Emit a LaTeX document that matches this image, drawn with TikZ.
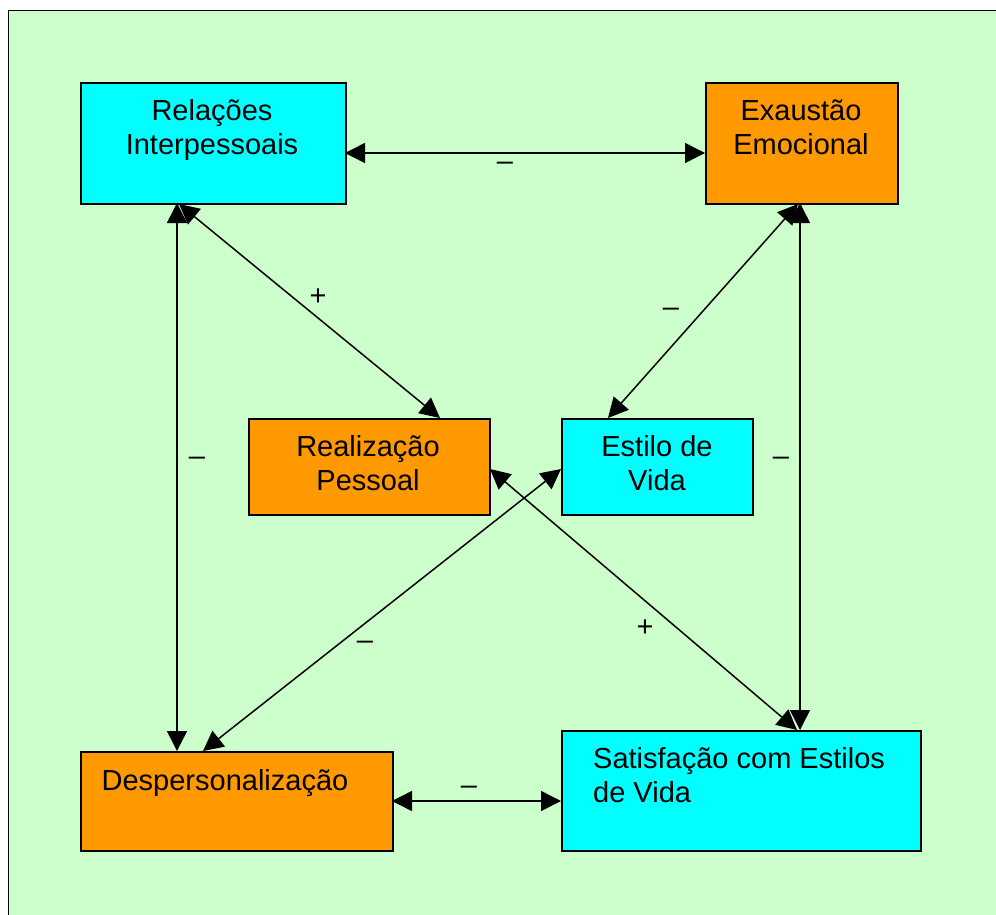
\documentclass[tikz,border=0pt]{standalone}
\usepackage{fontspec}
\setmainfont{Liberation Sans}
\usetikzlibrary{arrows.meta}
\definecolor{panel}{HTML}{CCFFCC}
\definecolor{boxcyan}{HTML}{00FFFF}
\definecolor{boxorange}{HTML}{FF9900}
\begin{document}
\begin{tikzpicture}[x=1pt,y=-1pt,
  box/.style={draw=black,line width=1.7pt,rectangle,inner sep=0pt,anchor=north west},
  txt/.style={font=\fontsize{29}{34}\selectfont,align=center,inner sep=0pt},
  sign/.style={font=\fontsize{29}{34}\selectfont,inner sep=0pt},
  link/.style={line width=1.5pt,{Triangle[length=20pt,width=20pt]}-{Triangle[length=20pt,width=20pt]}}]
\useasboundingbox (0,0) rectangle (996,915);
\clip (0,0) rectangle (996,915);
% panel
\fill[white] (0,0) rectangle (996,915);
\draw[fill=panel,line width=1.7pt] (8.5,10.5) rectangle (1010,930);
% boxes
\node[box,fill=boxcyan,minimum width=265pt,minimum height=121pt] (ri) at (80,82) {};
\node[box,fill=boxorange,minimum width=192pt,minimum height=121pt] (ee) at (705,82) {};
\node[box,fill=boxorange,minimum width=241pt,minimum height=96pt] (rp) at (248,418) {};
\node[box,fill=boxcyan,minimum width=191pt,minimum height=96pt] (ev) at (561,418) {};
\node[box,fill=boxorange,minimum width=312pt,minimum height=99pt] (dp) at (80,751) {};
\node[box,fill=boxcyan,minimum width=359pt,minimum height=120pt] (se) at (561,730) {};
% texts
\node[txt] (tri) at (212,130) {Relações\\Interpessoais};
\node[txt] (tee) at (801,127) {Exaustão\\Emocional};
\node[txt] (trp) at (368,463) {Realização\\Pessoal};
\node[txt] (tev) at (657,463) {Estilo de\\Vida};
\node[txt] (tdp) at (225,783) {Despersonalização};
\node[txt,align=left,anchor=west] (tse) at (593,775) {Satisfação com Estilos\\de Vida};
% connector end points
\coordinate (riE) at (345,153);
\coordinate (eeW) at (705,153);
\coordinate (riS) at (177,203);
\coordinate (riS2) at (179,204);
\coordinate (eeS) at (800,203);
\coordinate (eeS2) at (798,204);
\coordinate (rpN) at (440,418);
\coordinate (evN) at (608,418);
\coordinate (rpE) at (490,469);
\coordinate (evW) at (561,469);
\coordinate (dpN) at (177,751);
\coordinate (dpN2) at (203,751);
\coordinate (seN) at (800,730);
\coordinate (seN2) at (797,730);
\coordinate (dpE) at (392,801);
\coordinate (seW) at (561,801);
% connectors
\draw[link] (riE) -- (eeW);
\draw[link] (riS) -- (dpN);
\draw[link] (riS2) -- (rpN);
\draw[link] (eeS2) -- (evN);
\draw[link] (eeS) -- (seN);
\draw[link] (rpE) -- (seN2);
\draw[link] (evW) -- (dpN2);
\draw[link] (dpE) -- (seW);
% signs
\node[sign] (s1) at (505,166) {–};
\node[sign] (s2) at (197,461) {–};
\node[sign] (s3) at (318,297) {+};
\node[sign] (s4) at (671,312) {–};
\node[sign] (s5) at (781,461) {–};
\node[sign] (s6) at (645,628) {+};
\node[sign] (s7) at (365,645) {–};
\node[sign] (s8) at (469,790) {–};
\end{tikzpicture}
\end{document}
